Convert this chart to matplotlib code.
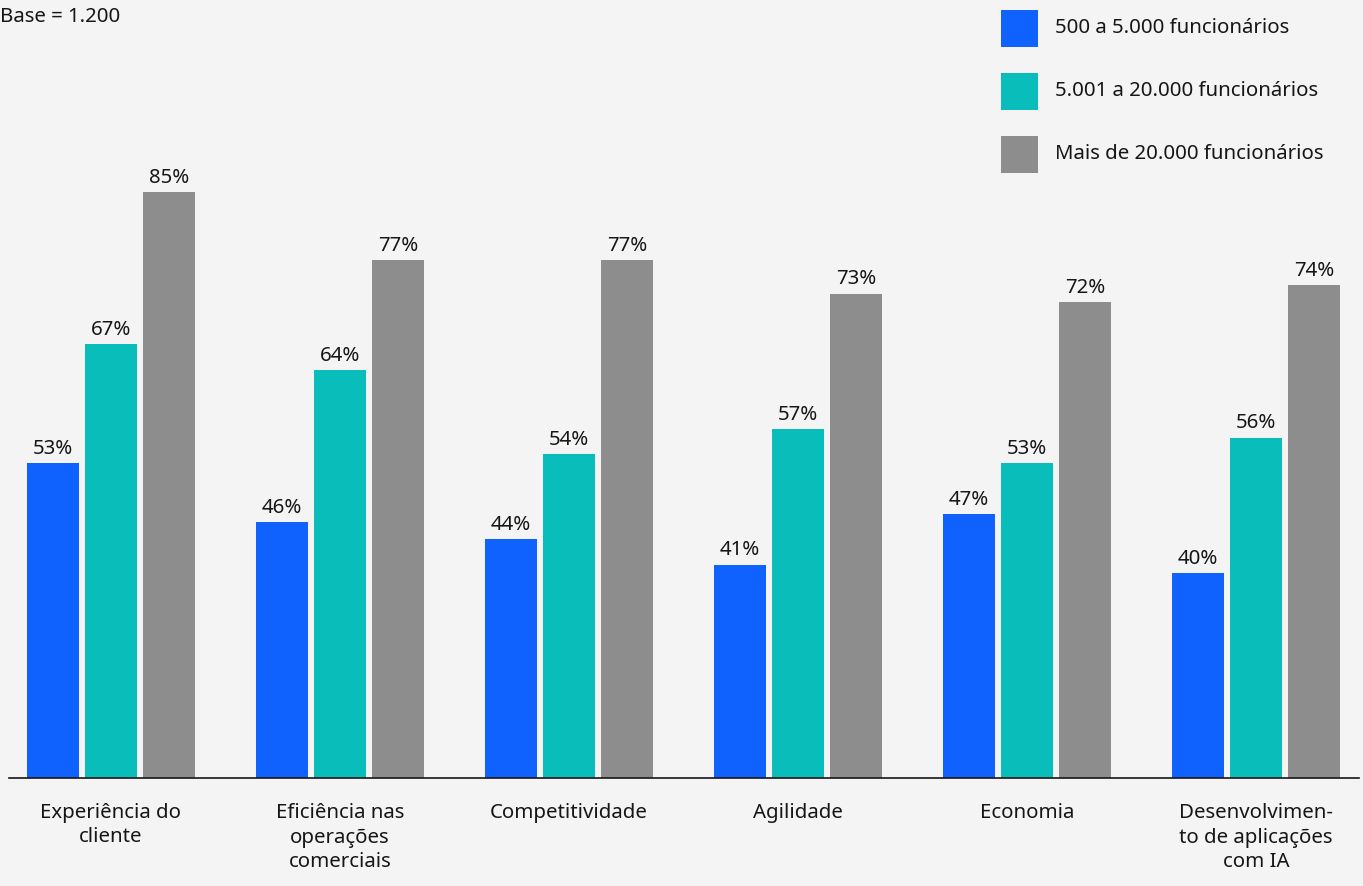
import matplotlib
matplotlib.use("Agg")
import matplotlib.pyplot as plt
from matplotlib.patches import Rectangle
import numpy as np

categories = ["Experiência do\ncliente", "Eficiência nas\noperações\ncomerciais", "Competitividade",
              "Agilidade", "Economia", "Desenvolvimen-\nto de aplicações\ncom IA"]
series_names = ["500 a 5.000 funcionários", "5.001 a 20.000 funcionários", "Mais de 20.000 funcionários"]
small = [53, 46, 44, 41, 47, 40]
medium = [67, 64, 54, 57, 53, 56]
large = [85, 77, 77, 73, 72, 74]
colors = ["#0f62fe", "#08bdba", "#8d8d8d"]

plt.rcParams['font.family'] = ['Noto Sans', 'DejaVu Sans']
W, H = 1363, 886
fig = plt.figure(figsize=(W/100, H/100), dpi=100)
bg = "#f4f4f4"
txt = "#161616"
fig.patch.set_facecolor(bg)

ax = fig.add_axes([9/W, (H-778)/H, (1359-9)/W, 778/H])
ax.set_facecolor(bg)

x = np.arange(len(categories))
width = 52/229
offset = 58/229
FS = 14.7
for i, (vals, c, name) in enumerate(zip([small, medium, large], colors, series_names)):
    bars = ax.bar(x + (i-1)*offset, vals, width=width, color=c, label=name, zorder=2)
    for b, v in zip(bars, vals):
        ax.annotate(f"{v}%", (b.get_x()+b.get_width()/2, v), xytext=(0, 3), textcoords="offset points",
                    ha="center", va="bottom", fontsize=FS, color=txt)

ax.set_xlim((9-111)/229, (1359-111)/229)
ax.set_ylim(15.79, 15.79 + 778/8.467)
for s in ["top", "right", "left"]:
    ax.spines[s].set_visible(False)
ax.spines["bottom"].set_color(txt)
ax.spines["bottom"].set_linewidth(1.2)
ax.set_yticks([])
ax.set_xticks(x)
ax.set_xticklabels(categories, fontsize=FS, color=txt, linespacing=1.3)
ax.tick_params(axis="x", length=0, pad=18)

fig.text(0, 1-17/H, "Base = 1.200", ha="left", va="center", fontsize=FS, color=txt)

# legend (manual, figure coords)
for k, (name, c) in enumerate(zip(series_names, colors)):
    top = 10 + k*63
    fig.add_artist(Rectangle((1001/W, 1-(top+37)/H), 37/W, 37/H, transform=fig.transFigure,
                             facecolor=c, edgecolor="none"))
    fig.text(1055/W, 1-(top+18)/H, name, ha="left", va="center", fontsize=FS, color=txt)

fig.savefig("out.png", dpi=100, facecolor=bg)
